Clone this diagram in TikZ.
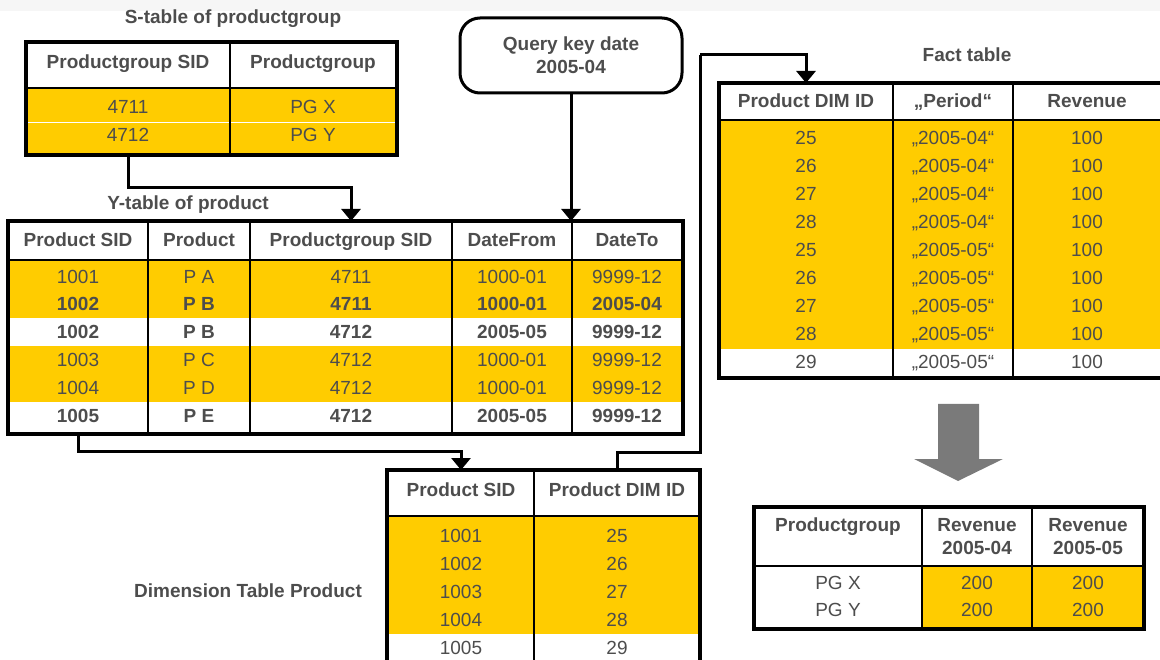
\documentclass[tikz,border=0pt]{standalone}
\usepackage{fontspec}
\setmainfont{Liberation Sans}
\usetikzlibrary{arrows.meta}

\definecolor{gold}{HTML}{FFCC00}
\definecolor{txt}{HTML}{4D4D4D}
\definecolor{bigarrow}{HTML}{7A7A7A}
\definecolor{band}{HTML}{F6F6F6}
\newcommand{\tabfont}{\fontsize{19}{23}\selectfont}

\tikzset{
  frame/.style={draw=black, line width=3.4pt},
  grid/.style={draw=black, line width=1.8pt},
  hl/.style={fill=gold},
  cell/.style={text=txt, inner sep=0pt, text height=13.5pt, text depth=0pt, font=\tabfont},
  cellb/.style={cell, font=\tabfont\bfseries},
  hd/.style={cellb},
  ttl/.style={cellb},
  hdtwo/.style={text=txt, inner sep=0pt, align=center, font=\tabfont\bfseries},
  qbox/.style={draw=black, line width=3pt, rounded corners=20pt, minimum width=222pt,
    minimum height=75pt, align=center, text=txt, font=\tabfont\bfseries},
  conn/.style={line width=3pt, -{Triangle[width=19pt,length=12pt]}}
}

\begin{document}
\begin{tikzpicture}[x=1pt, y=-1pt]
    \useasboundingbox (0,0) rectangle (1160,660);
    \fill[band] (0,0) rectangle (1160,11);

    % S-table of productgroup
    \node[ttl] (stitle) at (233,17) {S-table of productgroup};
    \coordinate (S-nw) at (26,42);
    \coordinate (S-se) at (397,155);
    \fill[hl] (26,88) rectangle (S-se);
    \draw[white, line width=0.8pt] (26,122) -- (397,122);
    \draw[grid] (230,42) -- (230,155);
    \draw[grid] (26,88) -- (397,88);
    \draw[frame] (S-nw) rectangle (S-se);
    \node[hd] (s0a) at (128,62) {Productgroup SID};
    \node[hd] (s0b) at (313,62) {Productgroup};
    \node[cell] (s1a) at (128,107) {4711}; \node[cell] (s1b) at (313,107) {PG X};
    \node[cell] (s2a) at (128,135) {4712}; \node[cell] (s2b) at (313,135) {PG Y};

    % Y-table of product
    \node[ttl] (ytitle) at (188,203) {Y-table of product};
    \coordinate (Y-nw) at (8,221);
    \coordinate (Y-se) at (683,434);
    \fill[hl] (8,260) rectangle (683,318);
    \fill[hl] (8,346) rectangle (683,402);
    \draw[grid] (148,221) -- (148,434);
    \draw[grid] (250,221) -- (250,434);
    \draw[grid] (452,221) -- (452,434);
    \draw[grid] (572,221) -- (572,434);
    \draw[grid] (8,260) -- (683,260);
    \draw[frame] (Y-nw) rectangle (Y-se);
    \node[hd] (y0a) at (78,240) {Product SID};
    \node[hd] (y0b) at (199,240) {Product};
    \node[hd] (y0c) at (351,240) {Productgroup SID};
    \node[hd] (y0d) at (512,240) {DateFrom};
    \node[hd] (y0e) at (627,240) {DateTo};
    \node[cell] (y1a) at (78,277) {1001}; \node[cell] (y1b) at (199,277) {P A}; \node[cell] (y1c) at (351,277) {4711}; \node[cell] (y1d) at (512,277) {1000-01}; \node[cell] (y1e) at (627,277) {9999-12};
    \node[cellb] (y2a) at (78,304) {1002}; \node[cellb] (y2b) at (199,304) {P B}; \node[cellb] (y2c) at (351,304) {4711}; \node[cellb] (y2d) at (512,304) {1000-01}; \node[cellb] (y2e) at (627,304) {2005-04};
    \node[cellb] (y3a) at (78,332) {1002}; \node[cellb] (y3b) at (199,332) {P B}; \node[cellb] (y3c) at (351,332) {4712}; \node[cellb] (y3d) at (512,332) {2005-05}; \node[cellb] (y3e) at (627,332) {9999-12};
    \node[cell] (y4a) at (78,360) {1003}; \node[cell] (y4b) at (199,360) {P C}; \node[cell] (y4c) at (351,360) {4712}; \node[cell] (y4d) at (512,360) {1000-01}; \node[cell] (y4e) at (627,360) {9999-12};
    \node[cell] (y5a) at (78,388) {1004}; \node[cell] (y5b) at (199,388) {P D}; \node[cell] (y5c) at (351,388) {4712}; \node[cell] (y5d) at (512,388) {1000-01}; \node[cell] (y5e) at (627,388) {9999-12};
    \node[cellb] (y6a) at (78,416) {1005}; \node[cellb] (y6b) at (199,416) {P E}; \node[cellb] (y6c) at (351,416) {4712}; \node[cellb] (y6d) at (512,416) {2005-05}; \node[cellb] (y6e) at (627,416) {9999-12};

    % Query key date
    \node[qbox] (qkd) at (571,55.5) {Query key date\\2005-04};

    % Fact table
    \node[ttl] (ftitle) at (967,55) {Fact table};
    \coordinate (F-nw) at (719,83);
    \coordinate (F-se) at (1163,378);
    \fill[hl] (719,120) rectangle (1163,349);
    \draw[grid] (893,83) -- (893,378);
    \draw[grid] (1013,83) -- (1013,378);
    \draw[grid] (719,120) -- (1163,120);
    \draw[frame] (F-nw) rectangle (F-se);
    \node[hd] (f0a) at (806,101) {Product DIM ID};
    \node[hd] (f0b) at (953,101) {„Period“};
    \node[hd] (f0c) at (1087,101) {Revenue};
    \node[cell] (f1a) at (806,138) {25}; \node[cell] (f1b) at (953,138) {„2005-04“}; \node[cell] (f1c) at (1087,138) {100};
    \node[cell] (f2a) at (806,166) {26}; \node[cell] (f2b) at (953,166) {„2005-04“}; \node[cell] (f2c) at (1087,166) {100};
    \node[cell] (f3a) at (806,194) {27}; \node[cell] (f3b) at (953,194) {„2005-04“}; \node[cell] (f3c) at (1087,194) {100};
    \node[cell] (f4a) at (806,222) {28}; \node[cell] (f4b) at (953,222) {„2005-04“}; \node[cell] (f4c) at (1087,222) {100};
    \node[cell] (f5a) at (806,250) {25}; \node[cell] (f5b) at (953,250) {„2005-05“}; \node[cell] (f5c) at (1087,250) {100};
    \node[cell] (f6a) at (806,278) {26}; \node[cell] (f6b) at (953,278) {„2005-05“}; \node[cell] (f6c) at (1087,278) {100};
    \node[cell] (f7a) at (806,306) {27}; \node[cell] (f7b) at (953,306) {„2005-05“}; \node[cell] (f7c) at (1087,306) {100};
    \node[cell] (f8a) at (806,334) {28}; \node[cell] (f8b) at (953,334) {„2005-05“}; \node[cell] (f8c) at (1087,334) {100};
    \node[cell] (f9a) at (806,362) {29}; \node[cell] (f9b) at (953,362) {„2005-05“}; \node[cell] (f9c) at (1087,362) {100};

    % Dimension table product
    \node[ttl] (dtitle) at (248,591) {Dimension Table Product};
    \coordinate (D-nw) at (387,470);
    \coordinate (D-se) at (700,680);
    \fill[hl] (387,516) rectangle (700,634);
    \draw[grid] (534,470) -- (534,680);
    \draw[grid] (387,516) -- (700,516);
    \draw[frame] (D-nw) rectangle (D-se);
    \node[hd] (d0a) at (461,490) {Product SID};
    \node[hd] (d0b) at (617,490) {Product DIM ID};
    \node[cell] (d1a) at (461,536) {1001}; \node[cell] (d1b) at (617,536) {25};
    \node[cell] (d2a) at (461,564) {1002}; \node[cell] (d2b) at (617,564) {26};
    \node[cell] (d3a) at (461,592) {1003}; \node[cell] (d3b) at (617,592) {27};
    \node[cell] (d4a) at (461,620) {1004}; \node[cell] (d4b) at (617,620) {28};
    \node[cell] (d5a) at (461,648) {1005}; \node[cell] (d5b) at (617,648) {29};

    % Result
    \fill[bigarrow] (938,404) -- (979,404) -- (979,459) -- (1003,459) -- (958,481) -- (914,459) -- (938,459) -- cycle;
    \coordinate (R-nw) at (754,507);
    \coordinate (R-se) at (1144,629);
    \fill[hl] (922,566) rectangle (R-se);
    \draw[grid] (922,507) -- (922,629);
    \draw[grid] (1032,507) -- (1032,629);
    \draw[grid] (754,566) -- (1144,566);
    \draw[frame] (R-nw) rectangle (R-se);
    \node[hd] (r0a) at (838,525) {Productgroup};
    \node[hdtwo] (r0b) at (977,536.5) {Revenue\\2005-04};
    \node[hdtwo] (r0c) at (1088,536.5) {Revenue\\2005-05};
    \node[cell] (r1a) at (838,583) {PG X}; \node[cell] (r1b) at (977,583) {200}; \node[cell] (r1c) at (1088,583) {200};
    \node[cell] (r2a) at (838,610) {PG Y}; \node[cell] (r2b) at (977,610) {200}; \node[cell] (r2c) at (1088,610) {200};

    % Connectors
    \coordinate (bendA) at (700,452);
    \coordinate (bendB) at (700,55);
    \draw[conn] (s2a |- S-se) -- ++(0,33) -| (y0c |- Y-nw);
    \draw[conn] (qkd.south) -- (qkd.south |- Y-nw);
    \draw[conn] (y6a |- Y-se) -- ++(0,17) -| (d0a |- D-nw);
    \draw[line width=3pt] (d0b |- D-nw) |- (bendA) -- (bendB);
    \draw[conn] (bendB) -| (f0a |- F-nw);

\end{tikzpicture}
\end{document}
